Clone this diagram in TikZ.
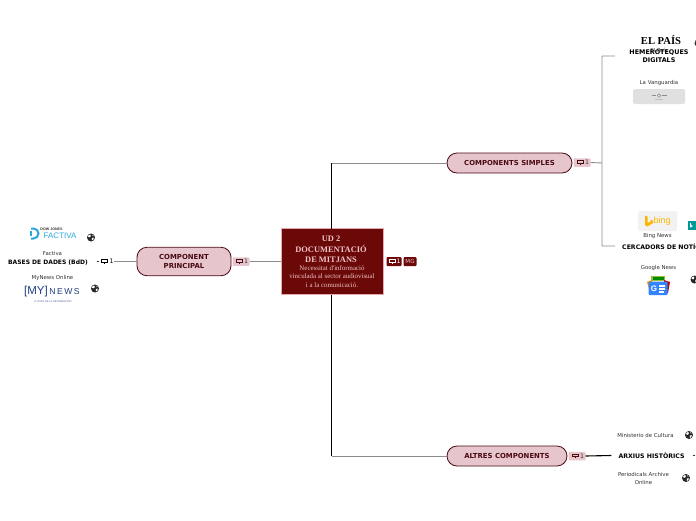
\documentclass[tikz,border=0pt]{standalone}
\usepackage{fontspec}
\setmainfont{DejaVu Sans}
\newfontfamily\titlefont{Liberation Serif}
\newfontfamily\logoserif{Liberation Serif}
\newfontfamily\logosans{Liberation Sans}
\definecolor{rootfill}{HTML}{6B0808}
\definecolor{rootedge}{HTML}{E8A8B0}
\definecolor{roottext}{HTML}{F0C4C8}
\definecolor{topicfill}{HTML}{E6C6CC}
\definecolor{topicedge}{HTML}{4A0A14}
\definecolor{linkgray}{HTML}{8C8C8C}
\definecolor{labelgray}{HTML}{333333}
\definecolor{factcyan}{HTML}{2AA8D8}
\definecolor{mynavy}{HTML}{1F3F80}
\definecolor{bingorange}{HTML}{FFB400}
\tikzset{
  x=1pt,y=-1pt,
  rootbox/.style={draw=rootedge,fill=rootfill,line width=.8pt,minimum width=102pt,minimum height=66pt,inner sep=0pt,outer sep=0pt,text=white},
  topicbox/.style={draw=topicedge,fill=topicfill,rounded corners=10pt,line width=.8pt,inner sep=0pt,font=\fontsize{6.9}{9.5}\selectfont\bfseries,text=topicedge,align=center},
  sublabel/.style={inner sep=0pt,font=\fontsize{6.2}{8}\selectfont\bfseries,text=black,align=center},
  smalllabel/.style={inner sep=0pt,font=\fontsize{5.4}{7.5}\selectfont,text=labelgray,align=center},
  badgepink/.style={fill=topicfill,draw=none,rounded corners=1pt,minimum width=17pt,minimum height=8.5pt,inner sep=0pt},
  badgedark/.style={fill=rootfill,draw=none,rounded corners=1pt,minimum height=9pt,inner sep=0pt},
  badgeplain/.style={draw=none,minimum width=14pt,minimum height=8pt,inner sep=0pt},
  badgetext/.style={font=\fontsize{6.2}{6}\selectfont},
  link/.style={draw=linkgray,line width=.9pt},
  trunk/.style={draw=black,line width=1.3pt},
  pics/comment/.style={code={
    \draw[#1,line width=.7pt] (-2.9,-1.6) rectangle (2.9,.9);
    \draw[#1,line width=.7pt] (0,.9) -- (0,2.5);
  }},
  pics/globeicon/.style={code={
    \fill[black!85] (0,0) circle[radius=4];
    \fill[white] (-2.4,-2.4) -- (-.6,-3) -- (-.2,-1.4) -- (-1.2,-.2) -- (-3,-.8) -- cycle;
    \fill[white] (.8,.4) -- (2.8,.2) -- (2.2,2.4) -- (.8,2.8) -- cycle;
    \fill[white] (1.4,-3) -- (2.6,-2) -- (1.6,-1.4) -- cycle;
  }},
}
\begin{document}
\begin{tikzpicture}
\useasboundingbox (0,0) rectangle (696,520);
\fill[white] (0,0) rectangle (696,520);

% ---- nodes: root and main topics
\node[rootbox,anchor=north west] (root) at (281,228.5) {};
\node[inner sep=0pt,text=roottext,align=center,font=\fontsize{8.4}{10.5}\titlefont\bfseries] (roottitle) at (331,249.3)
  {UD 2\\DOCUMENTACIÓ\\DE MITJANS};
\node[inner sep=0pt,text=roottext,align=center,font=\fontsize{6.9}{8.4}\titlefont] (rootsub) at (332,276.5)
  {Necessitat d'informació\\vinculada al sector audiovisual\\i a la comunicació.};
\node[topicbox,minimum width=94pt,minimum height=28.5pt] (princ) at (184,261.5) {COMPONENT\\PRINCIPAL};
\node[topicbox,minimum width=125pt,minimum height=20pt] (simples) at (509.5,163) {COMPONENTS SIMPLES};
\node[topicbox,minimum width=120pt,minimum height=20pt] (altres) at (507,456) {ALTRES COMPONENTS};

% ---- badges
\node[badgedark,minimum width=15pt] (bcom) at (394,261.5) {};
\pic at (392,261.2) {comment={white}};
\node[inner sep=0pt,text=white,badgetext] at (398.6,261.5) {1};
\node[badgedark,minimum width=13pt,text=roottext,font=\fontsize{5.6}{6}\selectfont] (bmg) at (410,261.5) {MG};

\node[badgepink] (bprinc) at (241,261.5) {};
\pic at (239,261.2) {comment={topicedge}};
\node[inner sep=0pt,text=labelgray,badgetext] at (246,261.5) {1};
\node[badgepink] (bsimp) at (582,162.5) {};
\pic at (580,162.2) {comment={topicedge}};
\node[inner sep=0pt,text=labelgray,badgetext] at (587,162.5) {1};
\node[badgepink] (balt) at (577,456) {};
\pic at (575,455.7) {comment={topicedge}};
\node[inner sep=0pt,text=labelgray,badgetext] at (582,456) {1};
\node[badgeplain] (bbases) at (107,261.5) {};
\pic at (104.5,261.2) {comment={black}};
\node[inner sep=0pt,text=black,badgetext] at (111.5,261.5) {1};

% ---- sub-labels
\node[sublabel,font=\fontsize{6}{8}\selectfont\bfseries] (bases) at (48,262.5) {BASES DE DADES (BdD)};
\node[smalllabel] (factiva) at (52.5,253) {Factiva};
\node[smalllabel] (mynews) at (52.5,278) {MyNews Online};
\node[smalllabel] (elpaislabel) at (659,50) {El País};
\node[sublabel,font=\fontsize{6.4}{8.3}\selectfont\bfseries] (hemero) at (659,56.5) {HEMEROTEQUES\\DIGITALS};
\node[smalllabel] (vang) at (659,83.5) {La Vanguardia};
\node[smalllabel] (bingn) at (657.5,236) {Bing News};
\node[sublabel,anchor=west] (cerca) at (622,246.5) {CERCADORS DE NOTÍCIES};
\node[smalllabel] (googlen) at (658.5,268) {Google News};
\node[smalllabel] (minis) at (645.5,435) {Ministerio de Cultura};
\node[sublabel] (arxius) at (651.5,455.5) {ARXIUS HISTÒRICS};
\node[smalllabel] (period) at (643.5,478.5) {Periodicals Archive\\Online};

% ---- connectors
\coordinate (jtop) at (331.5,163);
\coordinate (jbot) at (331.5,456);
\coordinate (jright) at (602,163);
\coordinate (tickl) at (96.5,261.5);
\coordinate (tickla) at (98.5,261.5);
\coordinate (tickr) at (692.5,455.5);
\coordinate (tickra) at (694.5,455.5);
\draw[trunk] (root.north -| jtop) -- (jtop);
\draw[trunk] (root.south -| jbot) -- (jbot);
\draw[link] (jtop) -- (simples.west);
\draw[link] (jbot) -- (altres.west);
\draw[link] (root.west) -- (bprinc.east);
\draw[link] (princ.west) -- (bbases.east);
\draw[link] (bsimp.east) -- (jright);
\coordinate (hemjoin) at (615,56);
\coordinate (cerjoin) at (615,246);
\draw[link,rounded corners=.5pt] (hemjoin) -- (602,56) -- (602,246) -- (cerjoin);
\draw[draw=black,line width=1.1pt] (balt.east) -- ([xshift=-7pt]arxius.west);
\draw[draw=labelgray,line width=.7pt] (tickl) -- (tickla);
\draw[draw=labelgray,line width=.7pt] (tickr) -- (tickra);

% ---- logos
\node[inner sep=0pt,font=\fontsize{10.6}{11}\logoserif\bfseries,text=black] (elpais) at (661,40) {EL PAÍS};
% Factiva logo
\node[inner sep=0pt,font=\fontsize{3.6}{4}\logosans\bfseries,text=labelgray] (dj) at (51.5,229) {DOW JONES};
\node[inner sep=0pt,font=\fontsize{8}{8}\logosans,text=factcyan,anchor=west] (fact) at (43.5,236) {FACTIVA};
\draw[factcyan,line width=2pt] (31,228.5) -- (33.5,228.5) arc[start angle=-90,end angle=90,radius=5] -- (31,238.5);
\draw[factcyan,line width=1.5pt] (31,231) -- (31,236);
% MyNews logo
\node[inner sep=0pt,font=\fontsize{11.5}{12}\logosans,text=mynavy] (mylogo) at (36,292) {[MY]};
\node[inner sep=0pt,font=\fontsize{8.6}{10}\logosans,text=mynavy] (newslogo) at (64.5,292) {N\,E\,W\,S};
\node[inner sep=0pt,font=\fontsize{2.6}{3}\logosans,text=mynavy!80] (mytag) at (53,301) {A VISTA DE LA INFORMACIÓN};
% La Vanguardia thumbnail
\fill[black!12,rounded corners=1.5pt] (633,89) rectangle (685,104);
\fill[black!45] (651.5,95) rectangle (656,96.2);
\fill[black!45] (662,95) rectangle (666.5,96.2);
\draw[black!45,line width=.5pt] (659,95.6) circle[radius=1.8];
\fill[black!25] (655,99) rectangle (663,99.8);
% Bing thumbnail
\fill[black!5,rounded corners=1.5pt] (638,211) rectangle (677,231);
\node[inner sep=0pt,font=\fontsize{9}{9}\logosans,text=bingorange] (binglogo) at (662,221.5) {bing};
\fill[bingorange] (645,215.5) -- (647.5,216.5) -- (647.5,223) -- (651.5,221) -- (649.5,219.5) -- (653,220.5) -- (653,223) -- (647.5,226.5) -- (645,225) -- cycle;
% Bing small icon
\fill[teal!80!cyan] (687.5,221) rectangle (696,229.5);
\fill[white] (690,223) -- (691,223) -- (691,225) -- (693,226) -- (690,227.5) -- cycle;
% Google News icon
\fill[yellow!70!green!80!black] (651,275.5) rectangle (665,281);
\fill[green!55!black] (652.5,276.5) rectangle (663.5,280);
\fill[red!75!black] (664,280) -- (670,282) -- (668,293) -- (664,292) -- cycle;
\fill[orange!90!yellow] (652,280) -- (647,282) -- (650,292) -- (652,292) -- cycle;
\fill[blue!60!cyan!80!white,rounded corners=1pt] (648.5,281.5) rectangle (667.5,295);
\node[inner sep=0pt,font=\fontsize{8}{8}\logosans\bfseries,text=white] (glogo) at (654,288.5) {G};
\fill[white] (659,285) rectangle (665,286.8);
\fill[white] (659,288) rectangle (665,289.8);
\fill[white] (659,291) rectangle (664,292.6);

% ---- globes
\pic at (91,237.5) {globeicon};
\pic at (95,288.5) {globeicon};
\pic at (694.5,279.5) {globeicon};
\pic at (689,435) {globeicon};
\pic at (686,478) {globeicon};
\pic at (698.5,43) {globeicon};
\end{tikzpicture}
\end{document}
